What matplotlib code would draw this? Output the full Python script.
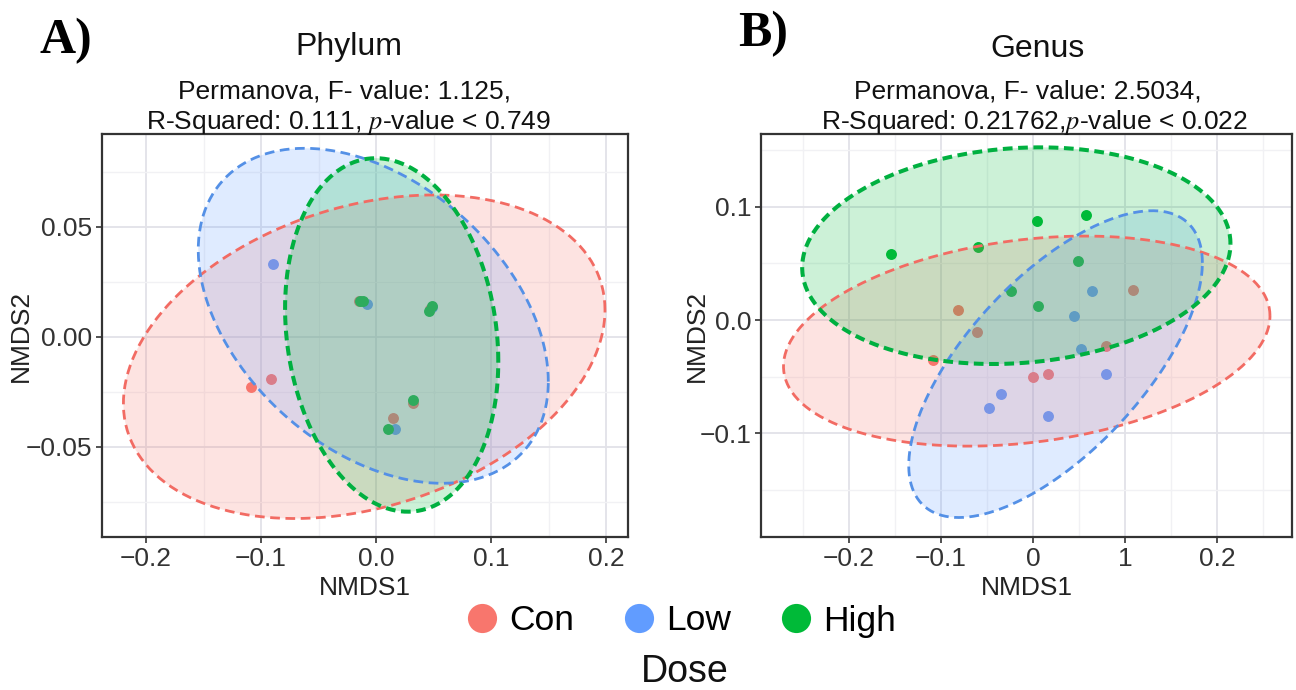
import numpy as np
import matplotlib.pyplot as plt
from matplotlib.lines import Line2D

plt.rcParams['font.family'] = ['Liberation Sans', 'DejaVu Sans']
plt.rcParams['mathtext.fontset'] = 'stix'
plt.rcParams['lines.scale_dashes'] = False

W, H = 1296, 690

groups = ["Con", "Low", "High"]
colors = ["#F8766D", "#619CFF", "#00BA38"]
line_colors = ["#F26B63", "#5490E6", "#00B040"]

# Phylum NMDS scores
phy_con_x = [-0.1087, -0.0916, 0.0145, -0.0150, 0.0320, 0.0470]
phy_con_y = [-0.0227, -0.0194, -0.0368, 0.0160, -0.0300, 0.0125]
phy_low_x = [-0.0900, -0.0081, 0.0165, 0.0490]
phy_low_y = [0.0329, 0.0149, -0.0421, 0.0135]
phy_high_x = [-0.0139, -0.0115, 0.0484, 0.0464, 0.0325, 0.0107]
phy_high_y = [0.0164, 0.0160, 0.0140, 0.0117, -0.0288, -0.0421]

# Genus NMDS scores
gen_con_x = [-0.0818, -0.0605, -0.1091, 0.0000, 0.0163, 0.0796, 0.1090]
gen_con_y = [0.0088, -0.0109, -0.0353, -0.0500, -0.0479, -0.0229, 0.0265]
gen_low_x = [0.0641, 0.0448, 0.0518, 0.0796, -0.0347, -0.0479, 0.0163]
gen_low_y = [0.0259, 0.0035, -0.0259, -0.0479, -0.0653, -0.0780, -0.0847]
gen_high_x = [-0.1545, -0.0593, 0.0040, 0.0571, 0.0490, -0.0234, 0.0049]
gen_high_y = [0.0583, 0.0641, 0.0877, 0.0930, 0.0524, 0.0259, 0.0124]

# ellipses: centre x, centre y, half width, half height, skew (sin of phase)
phy_ell_cx = [-0.0103, -0.0024, 0.0136]
phy_ell_cy = [-0.0091, 0.0095, 0.0008]
phy_ell_rx = [0.2094, 0.1522, 0.0927]
phy_ell_ry = [0.0735, 0.0761, 0.0803]
phy_ell_sk = [0.289, -0.393, -0.15]

gen_ell_cx = [-0.0068, 0.0245, -0.0181]
gen_ell_cy = [-0.0186, -0.0389, 0.0568]
gen_ell_rx = [0.2641, 0.1594, 0.2325]
gen_ell_ry = [0.0927, 0.1354, 0.0956]
gen_ell_sk = [0.24, 0.66, 0.11]


def px(x, y):
    return x / W, 1 - y / H


def panel(ax, xs, ys, cx, cy, rx, ry, sk):
    t = np.linspace(0, 2 * np.pi, 300)
    for i in range(3):
        ax.scatter(xs[i], ys[i], s=62, color=colors[i], zorder=2, linewidths=0)
    for i in range(3):
        ex = cx[i] + rx[i] * np.cos(t)
        ey = cy[i] + ry[i] * np.sin(t + np.arcsin(sk[i]))
        ax.fill(ex, ey, color=colors[i], alpha=0.2, lw=0, zorder=3)
    for i in range(3):
        ex = cx[i] + rx[i] * np.cos(t)
        ey = cy[i] + ry[i] * np.sin(t + np.arcsin(sk[i]))
        lw = 2.9 if i == 2 else 2.0
        ax.plot(ex, ey, color=line_colors[i], lw=lw, ls=(0, (7, 4)), zorder=4)
    ax.grid(True, which='major', color='#E2E2E8', lw=1.3, zorder=0)
    ax.grid(True, which='minor', color='#F1F1F4', lw=1.0, zorder=0)
    ax.set_axisbelow(True)
    for s in ax.spines.values():
        s.set_color('#333333')
        s.set_linewidth(1.6)
    ax.tick_params(which='major', length=4, width=1.2, color='#333333',
                   labelsize=19, labelcolor='#333333', pad=3)
    ax.tick_params(which='minor', length=0)
    ax.set_xlabel("NMDS1", fontsize=19, color='#222222', labelpad=4)
    ax.set_ylabel("NMDS2", fontsize=19, color='#222222')


fig = plt.figure(figsize=(W / 100, H / 100), dpi=100)
axA = fig.add_axes([102 / W, 1 - 537 / H, 526 / W, 403 / H])
axB = fig.add_axes([761 / W, 1 - 537 / H, 531 / W, 403 / H])

panel(axA, [phy_con_x, phy_low_x, phy_high_x], [phy_con_y, phy_low_y, phy_high_y],
      phy_ell_cx, phy_ell_cy, phy_ell_rx, phy_ell_ry, phy_ell_sk)
axA.set_xlim(-0.2383, 0.2191)
axA.set_ylim(-0.0910, 0.0921)
axA.set_xticks([-0.2, -0.1, 0.0, 0.1, 0.2])
axA.set_xticklabels(["\u22120.2", "\u22120.1", "0.0", "0.1", "0.2"])
axA.set_xticks([-0.15, -0.05, 0.05, 0.15], minor=True)
axA.set_yticks([-0.05, 0.0, 0.05])
axA.set_yticklabels(["\u22120.05", "0.00", "0.05"])
axA.set_yticks([-0.075, -0.025, 0.025, 0.075], minor=True)
axA.yaxis.set_label_coords((33 - 102) / 526, 0.5)

panel(axB, [gen_con_x, gen_low_x, gen_high_x], [gen_con_y, gen_low_y, gen_high_y],
      gen_ell_cx, gen_ell_cy, gen_ell_rx, gen_ell_ry, gen_ell_sk)
axB.set_xlim(-0.2953, 0.2812)
axB.set_ylim(-0.1915, 0.1642)
axB.set_xticks([-0.2, -0.1, 0.0, 0.1, 0.2])
axB.set_xticklabels(["\u22120.2", "\u22120.1", "0", "1", "0.2"])
axB.set_xticks([-0.25, -0.15, -0.05, 0.05, 0.15, 0.25], minor=True)
axB.set_yticks([-0.1, 0.0, 0.1])
axB.set_yticklabels(["\u22120.1", "0.0", "0.1"])
axB.set_yticks([-0.15, -0.05, 0.05, 0.15], minor=True)
axB.yaxis.set_label_coords((709 - 761) / 531, 0.5)

# panel letters and titles
fig.text(*px(39, 53), "A)", family='Liberation Serif', weight='bold', fontsize=36, va='baseline')
fig.text(*px(738, 46), "B)", family='Liberation Serif', weight='bold', fontsize=36, va='baseline')

fig.text(*px(349, 55), "Phylum", fontsize=23, ha='center', va='baseline', color='#111111')
fig.text(*px(345, 99), "Permanova, F- value: 1.125,", fontsize=19, ha='center', va='baseline', color='#111111')
fig.text(*px(348, 129), "R-Squared: 0.111, $p$-value < 0.749", fontsize=19, ha='center', va='baseline', color='#111111')

fig.text(*px(1037, 57), "Genus", fontsize=23, ha='center', va='baseline', color='#111111')
fig.text(*px(1028, 99), "Permanova, F- value: 2.5034,", fontsize=19, ha='center', va='baseline', color='#111111')
fig.text(*px(1034, 129), "R-Squared: 0.21762,$p$-value < 0.022", fontsize=19, ha='center', va='baseline', color='#111111')

# legend
handles = [Line2D([], [], marker='o', ls='', ms=21, color=c, markeredgewidth=0) for c in colors]
fig.legend(handles, groups, loc='center', bbox_to_anchor=px(681, 621), ncol=3, frameon=False,
           fontsize=25.5, handlelength=0.9, handletextpad=0.3, columnspacing=1.4)
fig.text(*px(685, 672), "Dose", fontsize=27, ha='center', va='center', color='#111111')

fig.savefig("out.png", dpi=100)
